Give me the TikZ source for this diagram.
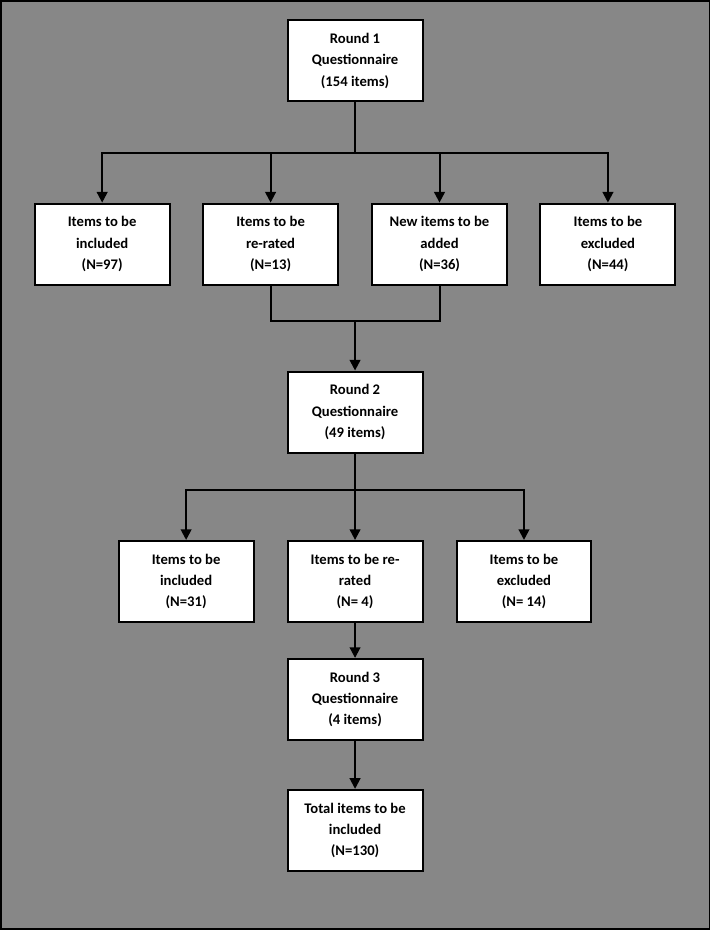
\documentclass[tikz,border=0pt]{standalone}
\usepackage{fontspec}
\setmainfont{Carlito}
\usetikzlibrary{arrows.meta}
\definecolor{bggray}{HTML}{878787}
\tikzset{
  box/.style={draw=black, fill=white, line width=1.5pt, rectangle, minimum width=101.25pt, minimum height=60.75pt, inner sep=2pt, align=center, font=\bfseries\fontsize{11}{16}\selectfont},
  conn/.style={line width=1.5pt, draw=black},
  arr/.style={conn, -{Triangle[width=8pt,length=8pt]}}
}
\begin{document}
\begin{tikzpicture}[x=0.75pt,y=-0.75pt]
\fill[bggray] (0,0) rectangle (710,930);
\draw[black, line width=1.2pt] (0.6,0.6) rectangle (709.4,929.4);
\useasboundingbox (0,0) rectangle (710,930);

\node[box] (r1) at (355,60.5) {Round 1\\Questionnaire\\(154 items)};
\node[box] (a1) at (102,244) {Items to be\\included\\(N=97)};
\node[box] (a2) at (270.5,244) {Items to be\\re-rated\\(N=13)};
\node[box] (a3) at (439.5,244) {New items to be\\added\\(N=36)};
\node[box] (a4) at (608,244) {Items to be\\excluded\\(N=44)};
\node[box] (r2) at (355,412) {Round 2\\Questionnaire\\(49 items)};
\node[box] (b1) at (186,581.5) {Items to be\\included\\(N=31)};
\node[box] (b2) at (355,581.5) {Items to be re-\\rated\\(N= 4)};
\node[box] (b3) at (524,581.5) {Items to be\\excluded\\(N= 14)};
\node[box] (r3) at (355,699.5) {Round 3\\Questionnaire\\(4 items)};
\node[box] (t) at (355,830.5) {Total items to be\\included\\(N=130)};

\coordinate (bar1) at (355,153);
\coordinate (m) at (355,321);
\coordinate (bar2) at (355,490);

\draw[conn] (r1.south) -- (bar1);
\draw[arr] (bar1) -| (a1.north);
\draw[arr] (bar1) -| (a2.north);
\draw[arr] (bar1) -| (a3.north);
\draw[arr] (bar1) -| (a4.north);

\draw[conn] (a2.south) |- (m);
\draw[conn] (a3.south) |- (m);
\draw[arr] (m) -- (r2.north);

\draw[conn] (r2.south) -- (bar2);
\draw[arr] (bar2) -| (b1.north);
\draw[arr] (bar2) -- (b2.north);
\draw[arr] (bar2) -| (b3.north);

\draw[arr] (b2.south) -- (r3.north);
\draw[arr] (r3.south) -- (t.north);
\end{tikzpicture}
\end{document}
